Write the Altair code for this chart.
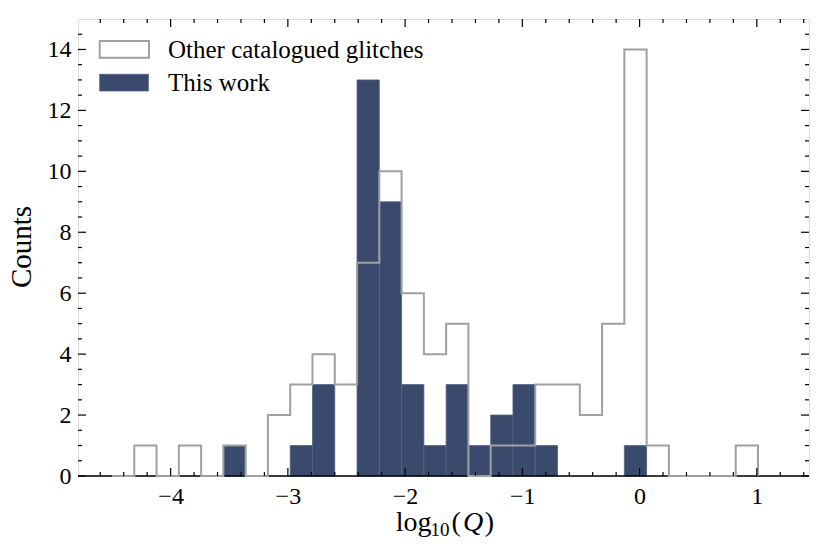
import altair as alt
import pandas as pd

# ---- data ------------------------------------------------------------------
bin_edges = [-4.50, -4.31, -4.12, -3.93, -3.74, -3.55, -3.36, -3.17, -2.98, -2.79,
             -2.60, -2.41, -2.22, -2.03, -1.84, -1.65, -1.46, -1.27, -1.08, -0.89,
             -0.70, -0.51, -0.32, -0.13, 0.06, 0.25, 0.44, 0.63, 0.82, 1.01]
other_counts = [0, 1, 0, 1, 0, 1, 0, 2, 3, 4, 3, 7, 10, 6, 4, 5, 0, 1, 1, 3,
                3, 2, 5, 14, 1, 0, 0, 0, 1]
this_counts = [0, 0, 0, 0, 0, 1, 0, 0, 1, 3, 0, 13, 9, 3, 1, 3, 1, 2, 3, 1,
               0, 0, 0, 1, 0, 0, 0, 0, 0]

x_major = [-4, -3, -2, -1, 0, 1]
y_major = [0, 2, 4, 6, 8, 10, 12, 14]
legend_labels = ["Other catalogued glitches", "This work"]

# ---- style -----------------------------------------------------------------
FONT = "Liberation Serif"
BLUE = "#3a4a6c"
BLUE_EDGE = "#52608a"
GRAY = "#a0a0a0"
W, H = 731, 457
XDOM = [-4.79, 1.445]
YDOM = [0, 15]

x_minor = [round(-4.6 + 0.2 * i, 1) for i in range(31)]
x_minor = [v for v in x_minor if abs(v - round(v)) > 1e-6]
y_minor = [0.5 * i for i in range(1, 30) if i % 4 != 0]

xs = alt.Scale(domain=XDOM, nice=False, zero=False)
ys = alt.Scale(domain=YDOM, nice=False, zero=False)

X_AXIS = alt.Axis(values=x_major, format="d", ticks=False, tickSize=0, domain=False,
                  grid=False, labelFont=FONT, labelFontSize=24, labelColor="black",
                  labelPadding=27, labelBaseline="alphabetic", labelFlush=False,
                  labelOverlap=False)
Y_AXIS = alt.Axis(values=y_major, format="d", ticks=False, tickSize=0, domain=False,
                  grid=False, labelFont=FONT, labelFontSize=24, labelColor="black",
                  labelPadding=7, labelBaseline="middle", labelFlush=False,
                  labelOverlap=False)

# ---- tables built from the arrays -----------------------------------------
bars_df = pd.DataFrame({
    "lo": bin_edges[:-1],
    "hi": bin_edges[1:],
    "count": this_counts,
})
bars_df = bars_df[bars_df["count"] > 0].copy()
bars_df["zero"] = 0

step_rows = [{"order": 0, "x": bin_edges[0], "y": 0}]
for i, c in enumerate(other_counts):
    step_rows.append({"order": i + 1, "x": bin_edges[i], "y": c})
step_rows.append({"order": len(other_counts) + 1, "x": bin_edges[-1], "y": 0})
step_df = pd.DataFrame(step_rows)

bars = alt.Chart(bars_df).mark_rect(fill=BLUE, stroke=BLUE_EDGE, strokeWidth=0.8).encode(
    x=alt.X("lo:Q", scale=xs, axis=X_AXIS, title=None),
    x2="hi:Q",
    y=alt.Y("count:Q", scale=ys, axis=Y_AXIS, title=None),
    y2="zero:Q",
)

step = alt.Chart(step_df).mark_line(
    interpolate="step-after", stroke=GRAY, strokeWidth=2, strokeJoin="miter"
).encode(
    x=alt.X("x:Q", scale=xs, axis=X_AXIS, title=None),
    y=alt.Y("y:Q", scale=ys, axis=Y_AXIS, title=None),
    order="order:Q",
)

bottom_spine = alt.Chart(pd.DataFrame({"a": [0]})).mark_rule(
    color="black", strokeWidth=1.3
).encode(x=alt.value(0), x2=alt.value(W), y=alt.value(H))


def xticks(vals, y0, y1):
    return alt.Chart(pd.DataFrame({"v": vals})).mark_rule(
        color="black", strokeWidth=1.2
    ).encode(
        x=alt.X("v:Q", scale=xs, axis=X_AXIS, title=None),
        y=alt.value(y0), y2=alt.value(y1),
    )


def yticks(vals, x0, x1):
    return alt.Chart(pd.DataFrame({"v": vals})).mark_rule(
        color="black", strokeWidth=1.2
    ).encode(
        y=alt.Y("v:Q", scale=ys, axis=Y_AXIS, title=None),
        x=alt.value(x0), x2=alt.value(x1),
    )


MAJ, MIN = 8, 4
ticks = [
    xticks(x_major, H, H - MAJ), xticks(x_minor, H, H - MIN),
    xticks(x_major, 0, MAJ), xticks(x_minor, 0, MIN),
    yticks(y_major, 0, MAJ), yticks(y_minor, 0, MIN),
    yticks(y_major, W, W - MAJ), yticks(y_minor, W, W - MIN),
]

one = pd.DataFrame({"a": [0]})


def label(text, x, y, size, style="normal", angle=0, align="left"):
    return alt.Chart(one).mark_text(
        text=text, font=FONT, fontSize=size, fontStyle=style, color="black",
        align=align, baseline="alphabetic", angle=angle,
    ).encode(x=alt.value(x), y=alt.value(y))


titles = [
    label("log", 317.7, 512, 28),
    label("10", 352.5, 517.3, 19),
    label("(", 373.4, 512, 28),
    label("Q", 385.0, 512, 28, style="italic"),
    label(")", 406.7, 512, 28),
    label("Counts", -46.6, 228, 29, angle=270, align="center"),
]

legend = [
    alt.Chart(one).mark_rect(fill="white", stroke=GRAY, strokeWidth=2).encode(
        x=alt.value(21.7), x2=alt.value(71), y=alt.value(22), y2=alt.value(38.7)),
    alt.Chart(one).mark_rect(fill=BLUE, stroke=BLUE_EDGE, strokeWidth=0.8).encode(
        x=alt.value(21.7), x2=alt.value(70.4), y=alt.value(55.3), y2=alt.value(72)),
    label(legend_labels[0], 90, 39, 25),
    label(legend_labels[1], 90, 72, 25),
]

chart = alt.layer(bars, bottom_spine, step, *ticks, *titles, *legend).properties(
    width=W, height=H,
    autosize=alt.AutoSizeParams(type="none"),
    padding={"left": 70, "top": 11, "right": 10, "bottom": 63},
).configure_view(stroke="black", strokeWidth=1.3).configure(background="white")

chart.save("out.html", embed_options={"renderer": "svg", "actions": False})
